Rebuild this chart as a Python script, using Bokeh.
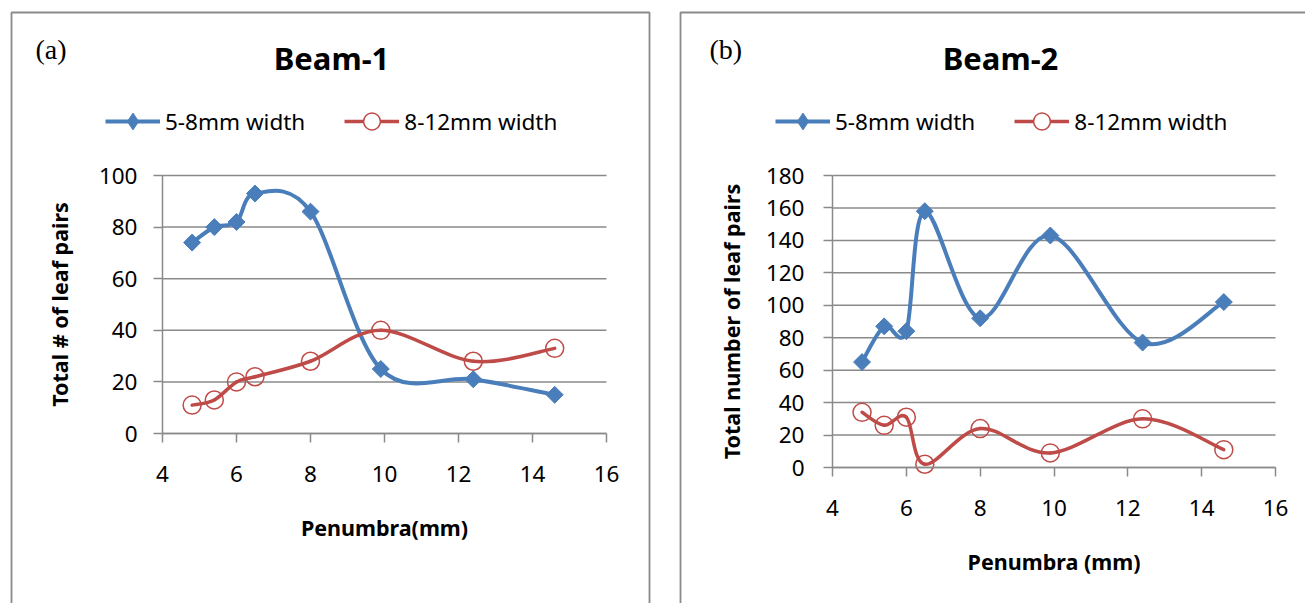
import numpy as np
from bokeh.plotting import figure
from bokeh.layouts import row
from bokeh.models import (Range1d, FixedTicker, Label, Legend, LegendItem, BoxAnnotation)
from bokeh.embed import file_html
from bokeh.resources import INLINE

# ---------------- data ----------------
penumbra = [4.8, 5.4, 6.0, 6.5, 8.0, 9.9, 12.4, 14.6]
beam1_5_8mm = [74, 80, 82, 93, 86, 25, 21, 15]
beam1_8_12mm = [11, 13, 20, 22, 28, 40, 28, 33]
beam2_5_8mm = [65, 87, 84, 158, 92, 143, 77, 102]
beam2_8_12mm = [34, 26, 31, 2, 24, 9, 30, 11]
series_labels = ["5-8mm width", "8-12mm width"]
x_ticks = [4, 6, 8, 10, 12, 14, 16]
beam1_y_ticks = [0, 20, 40, 60, 80, 100]
beam2_y_ticks = [0, 20, 40, 60, 80, 100, 120, 140, 160, 180]

BLUE = "#4a7ebb"
RED = "#be4b48"
GRID = "#8a8a8a"
BORDER = "#8a8a8a"
FONT = "Noto Sans"
SERIF = "Liberation Serif"
H = 603
LEG_H = 42  # legend swatch box height (Bokeh scales legend markers to 0.4 of it)


def smooth_segments(xs, ys, t=1.0 / 6.0):
    """Bezier control points for an Excel-like smoothed line through the points."""
    x = np.asarray(xs, float)
    y = np.asarray(ys, float)
    xp = np.concatenate([[x[0]], x, [x[-1]]])
    yp = np.concatenate([[y[0]], y, [y[-1]]])
    x0, y0, x1, y1 = x[:-1], y[:-1], x[1:], y[1:]
    xprev, yprev = xp[:-3], yp[:-3]
    xnext, ynext = xp[3:], yp[3:]
    return dict(x0=x0, y0=y0, x1=x1, y1=y1,
                cx0=x0 + (x1 - xprev) * t, cy0=y0 + (y1 - yprev) * t,
                cx1=x1 - (xnext - x0) * t, cy1=y1 - (ynext - y0) * t)


def make_panel(page_x0, width, ax_left, ax_right, ax_top, ax_bottom, ymax, y_ticks,
               blue, red, title, title_cx, tag, tag_x, xlabel, ylabel,
               ylab_standoff, ytick_standoff, box_left, box_right, legend_x):
    # canvas-pixel anchors of the plotting area (x=4..16, y=0..ymax)
    l = ax_left - page_x0
    r = ax_right - page_x0
    kx = 12.0 / (r - l)
    ky = ymax / float(ax_bottom - ax_top)
    x_range = Range1d(4 - l * kx, 4 + (width - l) * kx)
    y_range = Range1d(-(H - ax_bottom) * ky, ax_bottom * ky)

    def dx(px):  # page px -> data x
        return 4 + (px - ax_left) * kx

    def dy(py):  # page px -> data y
        return (ax_bottom - py) * ky

    p = figure(width=width, height=H, x_range=x_range, y_range=y_range,
               output_backend="svg", toolbar_location=None,
               min_border=0, min_border_left=0, min_border_right=0,
               min_border_top=0, min_border_bottom=0)
    p.outline_line_color = None
    p.background_fill_color = "white"
    p.border_fill_color = "white"
    p.xgrid.visible = False
    p.ygrid.visible = False

    # panel border
    p.add_layout(BoxAnnotation(left=dx(box_left), right=dx(box_right), top=dy(12),
                               bottom=dy(760), fill_color=None, fill_alpha=0,
                               line_color=BORDER, line_alpha=1.0, line_width=1.8,
                               level="underlay"))

    # horizontal gridlines across the plotting area
    p.segment(x0=4, x1=16, y0=y_ticks, y1=y_ticks, line_color=GRID, line_width=1.5)

    for ax in (p.xaxis[0], p.yaxis[0]):
        ax.axis_line_color = GRID
        ax.axis_line_width = 1.5
        ax.major_tick_line_color = GRID
        ax.major_tick_line_width = 1.5
        ax.major_tick_out = 9
        ax.major_tick_in = 0
        ax.minor_tick_line_color = None
        ax.major_label_text_font = FONT
        ax.major_label_text_font_size = "22.5px"
        ax.major_label_text_color = "black"
        ax.axis_label_text_font = FONT
        ax.axis_label_text_font_size = "21.5px"
        ax.axis_label_text_font_style = "bold"
        ax.axis_label_text_color = "black"
    p.xaxis.ticker = FixedTicker(ticks=x_ticks)
    p.yaxis.ticker = FixedTicker(ticks=y_ticks)
    p.xaxis.bounds = (4, 16)
    p.yaxis.bounds = (0, ymax)
    p.xaxis.fixed_location = 0
    p.yaxis.fixed_location = 4
    p.xaxis.major_label_standoff = 23
    p.xaxis.axis_label_standoff = 28
    p.yaxis.major_label_standoff = ytick_standoff
    p.yaxis.axis_label_standoff = ylab_standoff
    p.xaxis.axis_label = xlabel
    p.yaxis.axis_label = ylabel

    # smoothed lines and markers
    p.bezier(source=smooth_segments(penumbra, blue), x0="x0", y0="y0", x1="x1", y1="y1",
             cx0="cx0", cy0="cy0", cx1="cx1", cy1="cy1",
             line_color=BLUE, line_width=4, line_cap="round")
    p.bezier(source=smooth_segments(penumbra, red), x0="x0", y0="y0", x1="x1", y1="y1",
             cx0="cx0", cy0="cy0", cx1="cx1", cy1="cy1",
             line_color=RED, line_width=3.5, line_cap="round")
    p.scatter(penumbra, blue, marker="square", angle=np.pi / 4, size=12,
              fill_color=BLUE, line_color=BLUE)
    p.scatter(penumbra, red, marker="circle", size=18, fill_alpha=0,
              line_color=RED, line_width=1.5)

    # legend swatches: renderers with a single missing value (draw nothing on the plot)
    nan = [float("nan")]
    lb = p.line(x=nan, y=nan, line_color=BLUE, line_width=4)
    sb = p.scatter(x=nan, y=nan, marker="diamond", size=17,
                   fill_color=BLUE, line_color=BLUE)
    lr = p.line(x=nan, y=nan, line_color=RED, line_width=3.5)
    sr = p.scatter(x=nan, y=nan, marker="circle", size=18, fill_color="white",
                   line_color=RED, line_width=1.5)
    legend = Legend(items=[LegendItem(label=series_labels[0], renderers=[lb, sb]),
                           LegendItem(label=series_labels[1], renderers=[lr, sr])],
                    orientation="horizontal",
                    location=(legend_x - page_x0, H - (121 + LEG_H // 2)),
                    padding=0, margin=0, spacing=39, glyph_width=55, glyph_height=LEG_H,
                    label_height=LEG_H, label_standoff=5, label_text_font=FONT,
                    label_text_font_size="22.5px", label_text_color="black",
                    background_fill_alpha=0, border_line_color=None)
    p.add_layout(legend)

    # title and panel tag
    p.add_layout(Label(x=dx(title_cx), y=dy(57), text=title, text_font=FONT,
                       text_font_size="31px", text_font_style="bold", text_color="black",
                       text_align="center", text_baseline="middle"))
    p.add_layout(Label(x=dx(tag_x), y=dy(49), text=tag, text_font=SERIF,
                       text_font_size="28px", text_color="black",
                       text_align="left", text_baseline="middle"))
    return p


pa = make_panel(0, 665, 162, 606, 175, 433, 100, beam1_y_ticks, beam1_5_8mm, beam1_8_12mm,
                "Beam-1", 331, "(a)", 35, "Penumbra(mm)", "Total # of leaf pairs",
                22, 16, 11, 649, 105)
pb = make_panel(665, 640, 832, 1275, 175, 467, 180, beam2_y_ticks, beam2_5_8mm, beam2_8_12mm,
                "Beam-2", 1000, "(b)", 709, "Penumbra (mm)", "Total number of leaf pairs",
                17, 19, 680, 1330, 775)

layout = row(pa, pb, spacing=0)
open("out.html", "w").write(file_html(layout, INLINE))
